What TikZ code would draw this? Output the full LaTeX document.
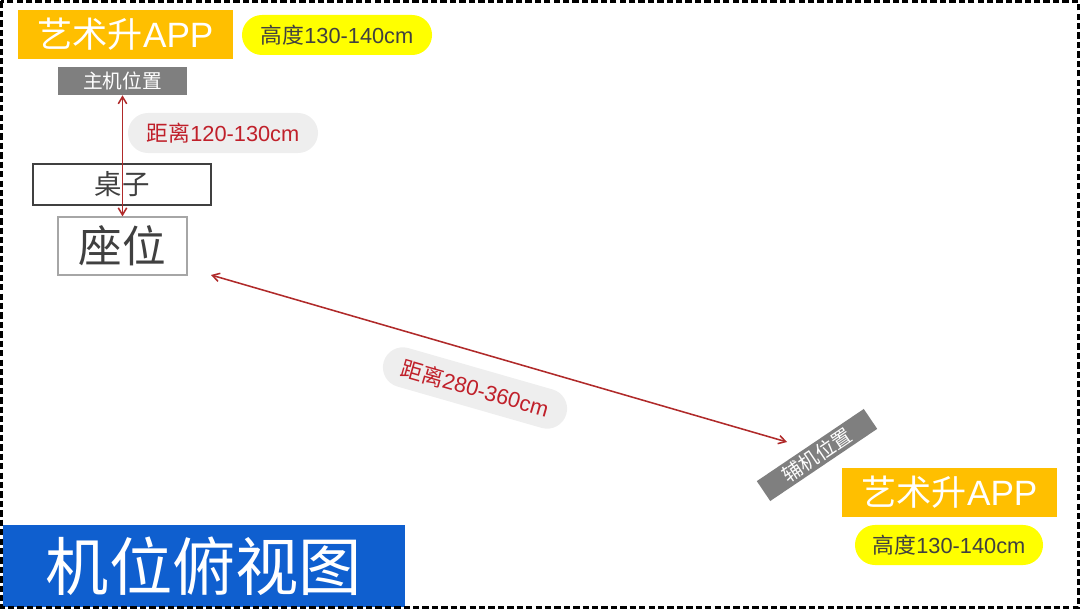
\documentclass[tikz,border=0pt]{standalone}
\usepackage{fontspec}
\setmainfont{Liberation Sans}
\newfontfamily\cjk{Noto Sans CJK SC}
\usetikzlibrary{arrows.meta}

\definecolor{appgold}{HTML}{FFBF00}
\definecolor{hiyellow}{HTML}{FFFF00}
\definecolor{camgray}{HTML}{7F7F7F}
\definecolor{pillgray}{HTML}{EEEEEE}
\definecolor{distred}{HTML}{C0202A}
\definecolor{arrowred}{HTML}{B02A2A}
\definecolor{titleblue}{HTML}{0F5FCF}
\definecolor{textgray}{HTML}{404040}

\begin{document}
\begin{tikzpicture}[x=0.025cm,y=-0.025cm,
  appbox/.style={fill=appgold, text=white, inner sep=0pt, minimum width=5.375cm, minimum height=1.2cm, font=\fontsize{25}{28}\selectfont},
  heightbox/.style={fill=hiyellow, text=textgray, rounded corners=0.5cm, inner sep=0pt, minimum width=4.75cm, minimum height=1cm, font=\fontsize{15.5}{18}\selectfont},
  cambox/.style={fill=camgray, text=white, inner sep=0pt, minimum width=3.225cm, font=\cjk\fontsize{14}{16}\selectfont},
  distpill/.style={fill=pillgray, text=distred, rounded corners=0.5cm, inner sep=0pt, minimum width=4.75cm, minimum height=1cm, font=\fontsize{15.5}{18}\selectfont},
  furniture/.style={draw, line width=0.9pt, fill=white, text=textgray, inner sep=0pt, font=\cjk},
  distarrow/.style={draw=arrowred, line width=1.1pt, {Straight Barb[length=5pt,width=6pt]}-{Straight Barb[length=5pt,width=6pt]}}]
\useasboundingbox (0,0) rectangle (1080,609);

\node[appbox] (app1) at (125.5,34.5) {{\cjk 艺术升}APP};
\node[heightbox] (height1) at (337,35) {{\cjk 高度}130-140cm};
\node[cambox, minimum height=0.7cm] (host) at (122.5,81) {主机位置};
\node[distpill] (dist1) at (223,133) {{\cjk 距离}120-130cm};

\node[furniture, draw=textgray, minimum width=4.45cm, minimum height=1.025cm, font=\cjk\fontsize{19.5}{22}\selectfont] (desk) at (122,184.5) {桌子};
\node[furniture, draw=gray!70, minimum width=3.225cm, minimum height=1.45cm, font=\cjk\fontsize{31}{34}\selectfont] (seat) at (122.5,246) {座位};

\coordinate (near) at (211,275);
\coordinate (far) at (787,442);
\node[distpill, rotate=-16] (dist2) at (475,388) {{\cjk 距离}280-360cm};
\node[cambox, minimum height=0.6cm, rotate=34] (aux) at (817,455) {辅机位置};

\node[appbox, minimum height=1.225cm] (app2) at (949.5,492.5) {{\cjk 艺术升}APP};
\node[heightbox, minimum width=4.7cm] (height2) at (949,545) {{\cjk 高度}130-140cm};

\node[fill=titleblue, text=white, inner sep=0pt, minimum width=10.025cm, minimum height=2.05cm, font=\cjk\fontsize{45}{50}\selectfont] (title) at (204,566) {机位俯视图};

\path[distarrow] (host.south) -- (seat.north);
\path[distarrow] (near) -- (far);

% dashed frame
\draw[line width=1.8pt, dash pattern=on 4.5pt off 2.2pt] (1.5,1.5) rectangle (1078.5,607.5);
\end{tikzpicture}
\end{document}
